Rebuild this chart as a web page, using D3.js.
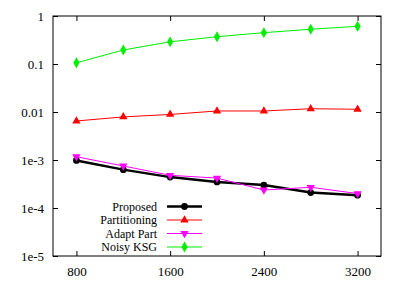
<!DOCTYPE html>
<html>
<head>
<meta charset="utf-8">
<script src="https://cdn.jsdelivr.net/npm/d3@7"></script>
<style>
body{margin:0;background:#fff;}
svg text{font-family:"Liberation Serif","Times New Roman",serif;font-size:13px;fill:#000;}
svg .legend text{font-size:12px;}
</style>
</head>
<body>
<div class="chart"></div>
<script>
// sample sizes on x, error on y (log scale)
const sizes = [800, 1200, 1600, 2000, 2400, 2800, 3200];
const proposed = [0.00098, 0.00063, 0.00044, 0.00035, 0.0003, 0.00021, 0.000185];
const partitioning = [0.0065, 0.0079, 0.0089, 0.0105, 0.0105, 0.0117, 0.0114];
const adaptPart = [0.00117, 0.00075, 0.00048, 0.00042, 0.000237, 0.00027, 0.0002];
const noisyKSG = [0.106, 0.196, 0.29, 0.37, 0.45, 0.53, 0.61];
const xTicks = [800, 1600, 2400, 3200];
const yTicks = [1, 0.1, 0.01, 0.001, 0.0001, 0.00001];
const yTickLabels = ["1", "0.1", "0.01", "1e-3", "1e-4", "1e-5"];
const seriesNames = ["Proposed", "Partitioning", "Adapt Part", "Noisy KSG"];

const W = 405, H = 284;
const margin = {top:16, right:24, bottom:28, left:53};
const w = W - margin.left - margin.right;
const h = H - margin.top - margin.bottom;

const series = [
  {name:seriesNames[0], values:proposed, color:"#000", lw:2.5, marker:"circle", size:36},
  {name:seriesNames[1], values:partitioning, color:"#ff0000", lw:1, marker:"up", size:30},
  {name:seriesNames[2], values:adaptPart, color:"#ff00ff", lw:1, marker:"down", size:30},
  {name:seriesNames[3], values:noisyKSG, color:"#00ee00", lw:1, marker:"diamond", size:34}
];

const svg = d3.select(".chart").append("svg").attr("width", W).attr("height", H);
const g = svg.append("g").attr("transform", `translate(${margin.left},${margin.top})`);

const x = d3.scaleLinear().domain([600, 3400]).range([0, w]);
const y = d3.scaleLog().domain([1e-5, 1]).range([h, 0]);

// ticks drawn inward on all four sides
const tl = 5;
const xa = g.append("g").attr("transform", `translate(0,${h})`)
  .call(d3.axisBottom(x).tickValues(xTicks).tickSize(-tl).tickPadding(11).tickFormat(d3.format("d")));
const xt = g.append("g")
  .call(d3.axisTop(x).tickValues(xTicks).tickSize(-tl).tickFormat(""));
const ya = g.append("g")
  .call(d3.axisLeft(y).tickValues(yTicks).tickSize(-tl).tickPadding(9).tickFormat((d,i)=>yTickLabels[i]));
const yr = g.append("g").attr("transform", `translate(${w},0)`)
  .call(d3.axisRight(y).tickValues(yTicks).tickSize(-tl).tickFormat(""));
[xa, xt, ya, yr].forEach(a => {
  a.attr("font-family", null).attr("font-size", null);
  a.select(".domain").remove();
  a.selectAll(".tick line").attr("stroke", "#000");
});
g.append("rect").attr("width", w).attr("height", h)
  .attr("fill", "none").attr("stroke", "#000").attr("stroke-width", 1);

const symbols = {
  circle: d3.symbolCircle,
  up: d3.symbolTriangle,
  down: d3.symbolTriangle,
  diamond: d3.symbolDiamond
};
function sym(s){
  return d3.symbol().type(symbols[s.marker]).size(s.size)();
}

const line = d3.line().x(d => x(d[0])).y(d => y(d[1]));

series.forEach(s => {
  const pts = sizes.map((d,i) => [d, s.values[i]]);
  g.append("path").datum(pts).attr("d", line)
    .attr("fill", "none").attr("stroke", s.color).attr("stroke-width", s.lw);
  g.selectAll(null).data(pts).join("path")
    .attr("d", sym(s))
    .attr("transform", d => `translate(${x(d[0])},${y(d[1])})${s.marker === "down" ? " rotate(180)" : ""}`)
    .attr("fill", s.color);
});

// legend
const legend = g.append("g").attr("class", "legend").attr("transform", "translate(0,190.5)");
series.forEach((s, i) => {
  const row = legend.append("g").attr("transform", `translate(0,${i*13.5})`);
  row.append("text").attr("x", 104).attr("y", 4.2).attr("text-anchor", "end").text(s.name);
  row.append("line").attr("x1", 114).attr("x2", 149).attr("y1", 0).attr("y2", 0)
    .attr("stroke", s.color).attr("stroke-width", s.lw);
  row.append("path").attr("d", sym(s))
    .attr("transform", `translate(131.5,0)${s.marker === "down" ? " rotate(180)" : ""}`)
    .attr("fill", s.color);
});
</script>
</body>
</html>
